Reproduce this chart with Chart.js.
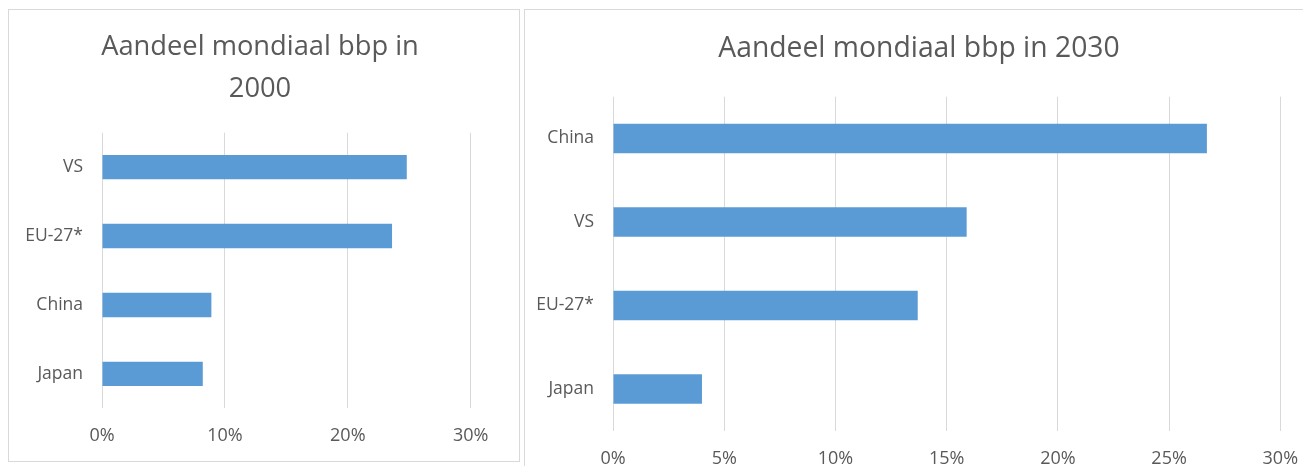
<!DOCTYPE html>
<html>
<head>
<meta charset="utf-8">
<script src="https://cdn.jsdelivr.net/npm/chart.js@4.4.1/dist/chart.umd.min.js"></script>
<style>
  html, body { margin: 0; padding: 0; background: #ffffff; overflow: hidden; width: 1303px; height: 466px; }
  .panel { position: absolute; box-sizing: border-box; border: 1px solid #d9d9d9; background: #fff; }
  #p1 { left: 8px; top: 9px; width: 512px; height: 453px; }
  #p2 { left: 524px; top: 9px; width: 790px; height: 480px; }
  canvas { display: block; }
</style>
</head>
<body>
<div class="panel" id="p1"><canvas id="c1" width="510" height="451"></canvas></div>
<div class="panel" id="p2"><canvas id="c2" width="788" height="478"></canvas></div>
<script>
// ---- data ----
const title2000 = ['Aandeel mondiaal bbp in', '2000'];
const categories2000 = ['VS', 'EU-27*', 'China', 'Japan'];
const values2000 = [24.8, 23.6, 8.9, 8.2];

const title2030 = 'Aandeel mondiaal bbp in 2030';
const categories2030 = ['China', 'VS', 'EU-27*', 'Japan'];
const values2030 = [26.7, 15.9, 13.7, 4.0];

const axisMin = 0;
const axisMax = 30;
const tickStep2000 = 10;
const tickStep2030 = 5;
const tickSuffix = '%';

// ---- styles ----
const BAR = '#5b9bd5';
const GRID = '#d9d9d9';
const TEXT = '#595959';
const FONT = "'Open Sans', 'DejaVu Sans', sans-serif";

function makeChart(canvasId, cfg) {
  return new Chart(document.getElementById(canvasId), {
    type: 'bar',
    data: {
      labels: cfg.labels,
      datasets: [{
        data: cfg.values,
        backgroundColor: BAR,
        borderWidth: 0,
        barPercentage: 0.354,
        categoryPercentage: 1.0
      }]
    },
    options: {
      indexAxis: 'y',
      responsive: false,
      animation: false,
      devicePixelRatio: 1,
      layout: { padding: { left: 0, right: cfg.padR, top: 0, bottom: 0 } },
      plugins: {
        legend: { display: false },
        tooltip: { enabled: false },
        title: {
          display: true,
          text: cfg.title,
          color: TEXT,
          font: { family: FONT, size: cfg.titleSize, weight: 'normal', lineHeight: cfg.titleLH },
          padding: { top: cfg.titlePadTop, bottom: cfg.titlePadBottom }
        }
      },
      scales: {
        x: {
          min: axisMin,
          max: axisMax,
          ticks: {
            stepSize: cfg.step,
            color: TEXT,
            padding: 17,
            font: { family: FONT, size: 18 },
            callback: (v) => v + tickSuffix
          },
          grid: { color: GRID, lineWidth: 1, drawTicks: false },
          border: { display: false },
          afterFit: (s) => { s.height = cfg.xH; s.paddingLeft = 0; s.paddingRight = 0; }
        },
        y: {
          ticks: {
            color: TEXT,
            padding: 19,
            font: { family: FONT, size: 17.5 }
          },
          grid: { display: false, drawTicks: false },
          border: { display: false },
          afterFit: (s) => { s.width = cfg.yW; s.paddingTop = 0; s.paddingBottom = 0; }
        },
        spacer: {
          type: 'linear',
          axis: 'y',
          position: 'right',
          display: true,
          ticks: { display: false },
          grid: { display: false, drawTicks: false },
          border: { display: false },
          afterFit: (s) => { s.width = cfg.rightW; s.paddingTop = 0; s.paddingBottom = 0; }
        }
      }
    }
  });
}

makeChart('c1', {
  labels: categories2000, values: values2000, title: title2000,
  step: tickStep2000, padR: 8, yW: 93, rightW: 40.3, xH: 52.7,
  titleSize: 27.3, titleLH: 1.513, titlePadTop: 17, titlePadBottom: 23.1
});

makeChart('c2', {
  labels: categories2030, values: values2030, title: title2030,
  step: tickStep2030, padR: 0, yW: 88, rightW: 32.7, xH: 57.3,
  titleSize: 28.3, titleLH: 1.431, titlePadTop: 19, titlePadBottom: 27.2
});
</script>
</body>
</html>
